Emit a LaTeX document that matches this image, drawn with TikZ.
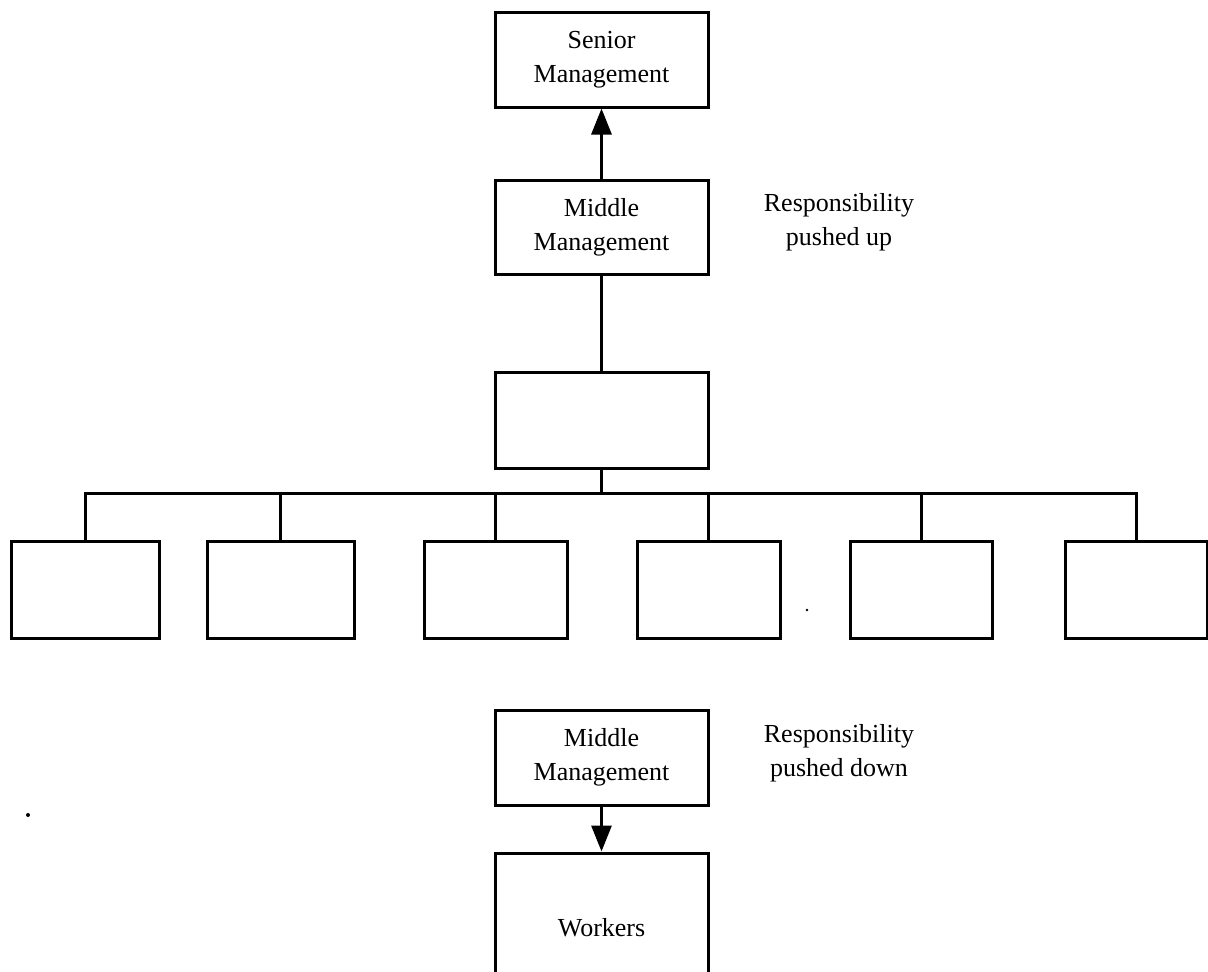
\documentclass[tikz,border=0pt]{standalone}
\usepackage{fontspec}
\setmainfont{Liberation Serif}
\usetikzlibrary{arrows.meta}
\begin{document}
\begin{tikzpicture}[x=1pt,y=-1pt,
  box/.style={draw,line width=3pt,rectangle,inner sep=0pt,align=center,
    font=\fontsize{26}{34}\selectfont},
  wide/.style={box,minimum width=213pt},
  unit/.style={box,minimum height=97pt},
  link/.style={line width=3pt},
  push/.style={link,-{Triangle[length=26pt,width=20pt]}},
  note/.style={align=center,font=\fontsize{26}{34}\selectfont}]
\useasboundingbox (0,0) rectangle (1208,972);
\clip (0,0) rectangle (1208,972);

% upper chain: responsibility pushed up
\node[wide,minimum height=95pt] (senior) at (601.5,59.5) {Senior\\Management};
\node[wide,minimum height=94pt] (midup) at (601.5,227) {Middle\\Management};
\node[note] (noteup) at (839,222) {Responsibility\\pushed up};
\node[wide,minimum height=96pt] (hub) at (601.5,420) {};

% row of units under the hub
\node[unit,minimum width=148pt] (u1) at (85,589.5) {};
\node[unit,minimum width=147pt] (u2) at (280.5,589.5) {};
\node[unit,minimum width=143pt] (u3) at (495.5,589.5) {};
\node[unit,minimum width=143pt] (u4) at (708.5,589.5) {};
\node[unit,minimum width=142pt] (u5) at (921,589.5) {};
\node[unit,minimum width=142pt] (u6) at (1136,589.5) {};
\coordinate (bus) at (601.5,493);

\draw[push] (midup) -- (senior);
\draw[link] (midup) -- (hub);
\draw[link] (hub) -- (bus);
\draw[link] (u1.north) |- (bus) -| (u6.north);
\foreach \u in {u2,u3,u4,u5}
  \draw[link] (\u.north) -- (\u.north |- bus);

% lower chain: responsibility pushed down
\node[wide,minimum height=95pt] (middown) at (601.5,757.5) {Middle\\Management};
\node[note] (notedown) at (839,753) {Responsibility\\pushed down};
\node[wide,minimum height=150pt] (workers) at (601.5,928) {Workers};
\draw[push] (middown) -- (workers);

% stray specks
\fill (28,815) circle (2pt);
\fill (807,610) circle (1.3pt);
\end{tikzpicture}
\end{document}
